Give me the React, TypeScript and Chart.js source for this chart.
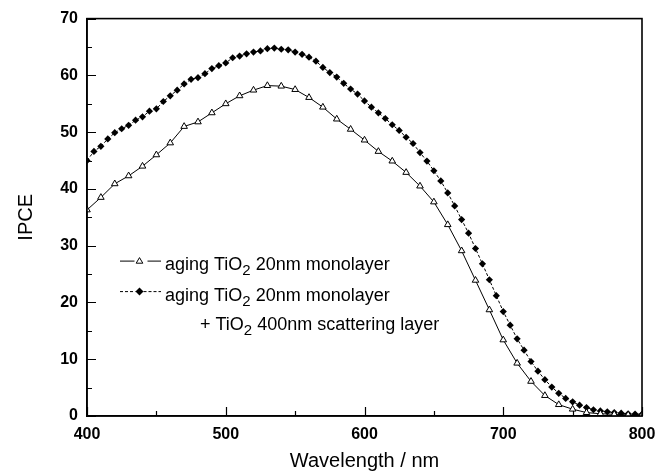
import React, { useEffect, useRef } from "react";
import { Chart, registerables } from "chart.js";

Chart.register(...registerables);

// ---- data ----
const wavelengthsMono = [400, 410, 420, 430, 440, 450, 460, 470, 480, 490, 500, 510, 520, 530, 540, 550, 560, 570, 580, 590, 600, 610, 620, 630, 640, 650, 660, 670, 680, 690, 700, 710, 720, 730, 740, 750, 760, 770, 780, 790, 800];
const ipceMono = [36.3, 38.5, 40.9, 42.3, 44.0, 46.0, 48.1, 51.0, 51.8, 53.4, 55.0, 56.4, 57.4, 58.2, 58.1, 57.5, 56.1, 54.4, 52.3, 50.5, 48.6, 46.6, 44.9, 42.9, 40.5, 37.7, 33.7, 29.1, 23.9, 18.7, 13.4, 9.3, 6.1, 3.6, 2.0, 1.2, 0.6, 0.4, 0.3, 0.2, 0.2];

const wavelengthsScatter = [400, 405, 410, 415, 420, 425, 430, 435, 440, 445, 450, 455, 460, 465, 470, 475, 480, 485, 490, 495, 500, 505, 510, 515, 520, 525, 530, 535, 540, 545, 550, 555, 560, 565, 570, 575, 580, 585, 590, 595, 600, 605, 610, 615, 620, 625, 630, 635, 640, 645, 650, 655, 660, 665, 670, 675, 680, 685, 690, 695, 700, 705, 710, 715, 720, 725, 730, 735, 740, 745, 750, 755, 760, 765, 770, 775, 780, 785, 790, 795, 800];
const ipceScatter = [45.0, 46.6, 47.5, 48.8, 49.9, 50.6, 51.2, 52.1, 52.7, 53.7, 54.1, 55.4, 56.4, 57.4, 58.5, 59.3, 59.6, 60.3, 61.2, 61.7, 62.2, 63.1, 63.4, 63.8, 64.1, 64.3, 64.7, 64.8, 64.6, 64.5, 64.1, 63.7, 63.2, 62.5, 61.4, 60.5, 59.7, 58.6, 57.6, 56.7, 55.5, 54.4, 53.4, 52.4, 51.3, 50.3, 49.1, 48.0, 46.4, 44.9, 43.2, 41.4, 39.3, 37.0, 34.6, 32.2, 29.5, 26.8, 24.0, 21.2, 18.4, 16.0, 13.6, 11.6, 9.6, 7.9, 6.4, 5.1, 4.0, 3.1, 2.5, 1.9, 1.5, 1.1, 0.9, 0.75, 0.6, 0.5, 0.4, 0.35, 0.3];

const xMajorTicks = [400, 500, 600, 700, 800];
const xMinorTicks = [450, 550, 650, 750];
const yMajorTicks = [0, 10, 20, 30, 40, 50, 60, 70];
const yMinorTicks = [5, 15, 25, 35, 45, 55, 65];

const xTitle = "Wavelength / nm";
const yTitle = "IPCE";
const legendLine1 = ["aging TiO", "2", " 20nm monolayer"];
const legendLine2 = ["aging TiO", "2", " 20nm monolayer"];
const legendLine3 = ["+ TiO", "2", " 400nm scattering layer"];

const FONT = '"Liberation Sans", Arial, Helvetica, sans-serif';

function drawTriangle(ctx: CanvasRenderingContext2D, x: number, y: number, r: number) {
  ctx.beginPath();
  ctx.moveTo(x, y - r);
  ctx.lineTo(x + r * 0.95, y + r * 0.6);
  ctx.lineTo(x - r * 0.95, y + r * 0.6);
  ctx.closePath();
  ctx.fillStyle = "#fff";
  ctx.fill();
  ctx.strokeStyle = "#000";
  ctx.lineWidth = 1;
  ctx.stroke();
}

function drawDiamond(ctx: CanvasRenderingContext2D, x: number, y: number, r: number) {
  ctx.beginPath();
  ctx.moveTo(x, y - r);
  ctx.lineTo(x + r, y);
  ctx.lineTo(x, y + r);
  ctx.lineTo(x - r, y);
  ctx.closePath();
  ctx.fillStyle = "#000";
  ctx.fill();
}

function drawSubText(ctx: CanvasRenderingContext2D, parts: string[], x: number, y: number) {
  ctx.textAlign = "left";
  ctx.textBaseline = "alphabetic";
  ctx.fillStyle = "#000";
  ctx.font = `18px ${FONT}`;
  ctx.fillText(parts[0], x, y);
  let cx = x + ctx.measureText(parts[0]).width;
  ctx.font = `15px ${FONT}`;
  ctx.fillText(parts[1], cx, y + 5.5);
  cx += ctx.measureText(parts[1]).width;
  ctx.font = `18px ${FONT}`;
  ctx.fillText(parts[2], cx, y);
}

const framePlugin = {
  id: "framePlugin",
  afterDraw(chart: any) {
    const { ctx, chartArea } = chart;
    const { left, right, top, bottom } = chartArea;
    const xs = chart.scales.x;
    const ys = chart.scales.y;
    ctx.save();
    // frame
    ctx.strokeStyle = "#000";
    ctx.lineWidth = 1.6;
    ctx.strokeRect(left, top, right - left, bottom - top);
    // inward ticks
    ctx.lineWidth = 1.2;
    ctx.beginPath();
    xMajorTicks.forEach((v) => {
      const px = Math.round(xs.getPixelForValue(v)) + 0.5;
      ctx.moveTo(px, bottom);
      ctx.lineTo(px, bottom - 9);
    });
    xMinorTicks.forEach((v) => {
      const px = Math.round(xs.getPixelForValue(v)) + 0.5;
      ctx.moveTo(px, bottom);
      ctx.lineTo(px, bottom - 5);
    });
    yMajorTicks.forEach((v) => {
      const py = Math.round(ys.getPixelForValue(v)) + 0.5;
      ctx.moveTo(left, py);
      ctx.lineTo(left + 9, py);
    });
    yMinorTicks.forEach((v) => {
      const py = Math.round(ys.getPixelForValue(v)) + 0.5;
      ctx.moveTo(left, py);
      ctx.lineTo(left + 5, py);
    });
    ctx.stroke();

    // axis titles
    ctx.fillStyle = "#000";
    ctx.font = `20px ${FONT}`;
    ctx.textAlign = "center";
    ctx.textBaseline = "alphabetic";
    ctx.fillText(xTitle, (left + right) / 2, bottom + 51);
    ctx.save();
    ctx.translate(left - 55, (top + bottom) / 2);
    ctx.rotate(-Math.PI / 2);
    ctx.fillText(yTitle, 0, 0);
    ctx.restore();

    // legend
    const sx0 = left + 33;
    const sx1 = left + 74;
    const mx = left + 52.5;
    const tx = left + 78;
    const b1 = top + 251;
    const b2 = top + 282;
    const b3 = top + 311;
    // line 1: solid with gaps around the triangle
    ctx.strokeStyle = "#000";
    ctx.lineWidth = 1;
    ctx.setLineDash([]);
    ctx.beginPath();
    ctx.moveTo(sx0, b1 - 8.5);
    ctx.lineTo(mx - 5, b1 - 8.5);
    ctx.moveTo(mx + 8, b1 - 8.5);
    ctx.lineTo(sx1, b1 - 8.5);
    ctx.stroke();
    drawTriangle(ctx, mx, b1 - 8.5, 3.5);
    drawSubText(ctx, legendLine1, tx, b1);
    // line 2: dashed with the diamond
    ctx.strokeStyle = "#000";
    ctx.lineWidth = 1;
    ctx.setLineDash([3, 2]);
    ctx.beginPath();
    ctx.moveTo(sx0, b2 - 9);
    ctx.lineTo(mx - 4, b2 - 9);
    ctx.moveTo(mx + 4, b2 - 9);
    ctx.lineTo(sx1, b2 - 9);
    ctx.stroke();
    ctx.setLineDash([]);
    drawDiamond(ctx, mx, b2 - 9, 4);
    drawSubText(ctx, legendLine2, tx, b2);
    // line 3
    drawSubText(ctx, legendLine3, left + 113, b3);
    ctx.restore();
  },
};

export default function App() {
  const canvasRef = useRef<HTMLCanvasElement | null>(null);

  useEffect(() => {
    const canvas = canvasRef.current;
    if (!canvas) return;
    const chart = new Chart(canvas, {
      type: "line",
      data: {
        datasets: [
          {
            label: "aging TiO2 20nm monolayer",
            data: wavelengthsMono.map((w, i) => ({ x: w, y: ipceMono[i] })),
            borderColor: "#000",
            borderWidth: 1,
            backgroundColor: "#fff",
            pointStyle: "triangle",
            pointRadius: 3.8,
            pointBorderColor: "#000",
            pointBorderWidth: 1,
            pointBackgroundColor: "#fff",
            tension: 0,
            fill: false,
          },
          {
            label: "aging TiO2 20nm monolayer + TiO2 400nm scattering layer",
            data: wavelengthsScatter.map((w, i) => ({ x: w, y: ipceScatter[i] })),
            borderColor: "#000",
            borderWidth: 1,
            borderDash: [3, 2],
            backgroundColor: "#000",
            pointStyle: "rectRot",
            pointRadius: 3.6,
            pointBorderWidth: 0,
            pointBackgroundColor: "#000",
            pointBorderColor: "#000",
            tension: 0,
            fill: false,
          },
        ],
      },
      options: {
        responsive: false,
        animation: false,
        devicePixelRatio: 1,
        layout: { padding: { left: 0, right: 27, top: 16, bottom: 0 } },
        plugins: {
          legend: { display: false },
          tooltip: { enabled: false },
        },
        scales: {
          x: {
            type: "linear",
            min: 400,
            max: 800,
            afterFit: (scale: any) => {
              scale.height = 60;
            },
            afterBuildTicks: (scale: any) => {
              scale.ticks = xMajorTicks.map((v) => ({ value: v }));
            },
            ticks: {
              padding: 9,
              color: "#000",
              font: { family: FONT, size: 16, weight: "bold" },
              maxRotation: 0,
            },
            grid: { display: false, drawTicks: false },
            border: { display: true, color: "#000", width: 1.6 },
          },
          y: {
            type: "linear",
            min: 0,
            max: 70,
            afterFit: (scale: any) => {
              scale.width = 87;
            },
            afterBuildTicks: (scale: any) => {
              scale.ticks = yMajorTicks.map((v) => ({ value: v }));
            },
            ticks: {
              padding: 9,
              color: "#000",
              font: { family: FONT, size: 16, weight: "bold" },
            },
            grid: { display: false, drawTicks: false },
            border: { display: true, color: "#000", width: 1.6 },
          },
        },
      },
      plugins: [framePlugin],
    });
    return () => chart.destroy();
  }, []);

  return (
    <div style={{ position: "absolute", left: 0, top: 0, width: 669, height: 476, background: "#fff" }}>
      <canvas ref={canvasRef} width={669} height={476} style={{ width: 669, height: 476, display: "block" }} />
    </div>
  );
}
